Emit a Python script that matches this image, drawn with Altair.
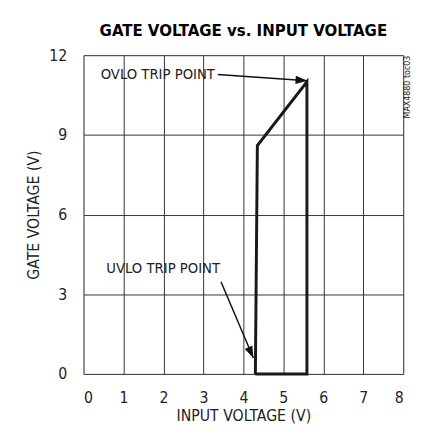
import altair as alt
import pandas as pd

# main curve (hysteresis loop)
curve_x = [4.30, 4.35, 5.59, 5.59, 4.30]
curve_y = [0.0, 8.6, 11.0, 0.0, 0.0]

x_ticks = [0, 1, 2, 3, 4, 5, 6, 7, 8]
y_ticks = [0, 3, 6, 9, 12]

# annotations
label_text = ["OVLO TRIP POINT", "UVLO TRIP POINT"]
label_x = [0.43, 0.57]
label_y = [11.28, 3.98]

ovlo_arrow = {"x": 3.36, "y": 11.27, "x2": 5.60, "y2": 11.04}
uvlo_arrow = {"x": 3.44, "y": 3.47, "x2": 4.25, "y2": 0.60}

title_text = "GATE VOLTAGE vs. INPUT VOLTAGE"
side_text = "MAX4880 toc03"

FONT = "DejaVu Sans Condensed"
W, H = 326, 325

curve = pd.DataFrame({"x": curve_x, "y": curve_y, "o": list(range(len(curve_x)))})
labels = pd.DataFrame({"x": label_x, "y": label_y, "t": label_text})

xs = alt.Scale(domain=[0, 8], nice=False, zero=False)
ys = alt.Scale(domain=[0, 12], nice=False, zero=False)

base_x = alt.X("x:Q", scale=xs, axis=alt.Axis(
    values=x_ticks, title="INPUT VOLTAGE (V)", grid=True, ticks=False, domain=False,
    labelFont=FONT, labelFontSize=16, labelColor="#222", labelPadding=16,
    titleFont=FONT, titleFontSize=16, titleFontWeight="normal", titleColor="#222",
    titleBaseline="alphabetic", titleY=48,
    gridColor="#333", gridWidth=1, gridOpacity=1))
base_y = alt.Y("y:Q", scale=ys, axis=alt.Axis(
    values=y_ticks, title="GATE VOLTAGE (V)", grid=True, ticks=False, domain=False,
    labelFont=FONT, labelFontSize=16, labelColor="#222", labelPadding=17,
    titleFont=FONT, titleFontSize=16, titleFontWeight="normal", titleColor="#222",
    titleAngle=270, titleBaseline="middle", titleAlign="center", titleX=-51,
    gridColor="#333", gridWidth=1, gridOpacity=1))

line = alt.Chart(curve).mark_line(color="#1a1718", strokeWidth=3, strokeJoin="miter").encode(
    x=base_x, y=base_y, order="o:Q")

txt = alt.Chart(labels).mark_text(align="left", baseline="middle", font=FONT,
                                  fontSize=15, color="#222").encode(
    x=alt.X("x:Q", scale=xs), y=alt.Y("y:Q", scale=ys), text="t:N")

ARROW = "M0,0L-2,-0.7L-2,0.7Z"

def arrow(a, ang):
    d = pd.DataFrame([a])
    r = alt.Chart(d).mark_rule(color="#111", strokeWidth=1.5).encode(
        x=alt.X("x:Q", scale=xs), y=alt.Y("y:Q", scale=ys), x2="x2:Q", y2="y2:Q")
    h = alt.Chart(d).mark_point(shape=ARROW, filled=True, color="#111", size=144,
                                opacity=1, angle=ang).encode(
        x=alt.X("x2:Q", scale=xs), y=alt.Y("y2:Q", scale=ys))
    return r + h

side = alt.Chart(pd.DataFrame({"x": [8.1], "y": [10.8], "t": [side_text]})).mark_text(
    angle=270, align="center", baseline="middle", font=FONT, fontSize=9, color="#222").encode(
    x=alt.X("x:Q", scale=xs), y=alt.Y("y:Q", scale=ys), text="t:N")

title = alt.Chart(pd.DataFrame({"x": [4.0], "y": [12.74], "t": [title_text]})).mark_text(
    align="center", baseline="alphabetic", font=FONT, fontSize=17, fontWeight="bold",
    color="#000").encode(
    x=alt.X("x:Q", scale=xs), y=alt.Y("y:Q", scale=ys), text="t:N")

chart = alt.layer(line, txt, arrow(ovlo_arrow, 4), arrow(uvlo_arrow, 66), side, title).properties(
    width=W, height=H,
    autosize=alt.AutoSizeParams(type="none"),
    padding={"left": 77, "top": 44, "right": 12, "bottom": 50},
).configure_view(stroke="#000", strokeWidth=3).configure(background="white")

chart.save("out.html", embed_options={"renderer": "svg", "actions": False})
